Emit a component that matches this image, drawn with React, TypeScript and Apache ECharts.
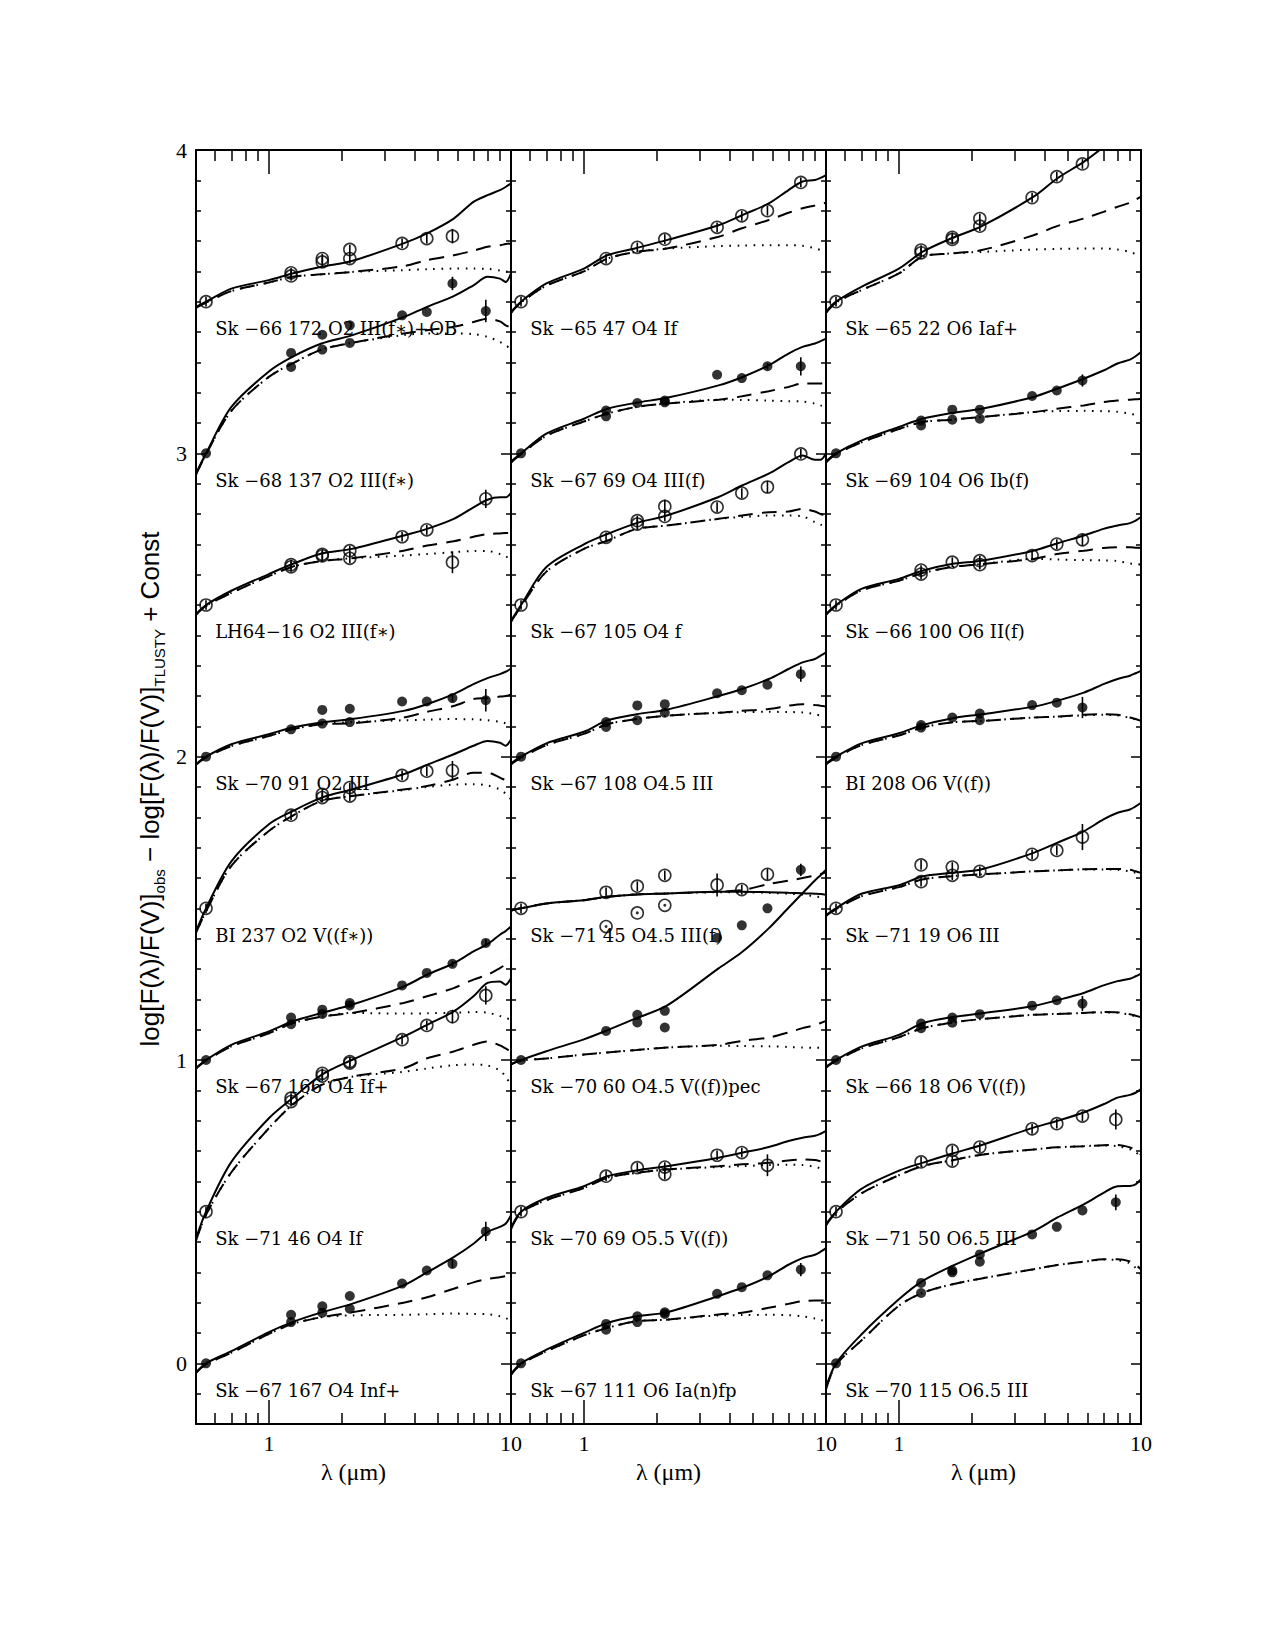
import React, { useEffect, useRef } from 'react';
import * as echarts from 'echarts';

// ---------- wavelengths (micron) ----------
const MODEL_L = [0.5, 0.55, 0.7, 1.0, 1.25, 1.65, 2.2, 3.6, 4.5, 5.8, 7, 8, 9, 9.5, 10];
const V = 0.55, J = 1.235, H = 1.662, K = 2.159, I1 = 3.55, I2 = 4.49, I3 = 5.73, I4 = 7.87;

// ---------- axis ticks ----------
const X_MAJOR_TICKS = [1];
const X_MINOR_TICKS = [0.6, 0.7, 0.8, 0.9, 2, 3, 4, 5, 6, 7, 8, 9];
const X_LABELS = [1, 10];
const Y_MAJOR_TICKS = [0, 1, 2, 3, 4];
const Y_MINOR_TICKS: number[] = [];
for (let i = -1; i < 40; i++) if (i % 10 !== 0) Y_MINOR_TICKS.push(i / 10);

// ---------- left column ----------
const L1_obs = [[V,3.5,.016],[J,3.595,.016],[J,3.585,.016],[H,3.642,.016],[H,3.631,.016],[K,3.672,.016],[K,3.642,.016],[I1,3.692,.016],[I2,3.708,.016],[I3,3.716,.024]];
const L1_solid = [3.483,3.5,3.543,3.571,3.593,3.615,3.634,3.692,3.725,3.774,3.829,3.851,3.868,3.878,3.89];
const L1_dash = [3.48,3.497,3.535,3.563,3.582,3.59,3.598,3.617,3.637,3.653,3.668,3.681,3.686,3.69,3.692];
const L1_dot = [3.48,3.497,3.535,3.563,3.582,3.59,3.598,3.604,3.607,3.609,3.609,3.608,3.603,3.6,3.597];

const L2_obs = [[V,3.0,0],[J,3.331,0],[J,3.285,0],[H,3.391,0],[H,3.342,0],[K,3.422,0],[K,3.364,0],[I1,3.455,0],[I2,3.466,0],[I3,3.56,.022],[I4,3.469,.037]];
const L2_solid = [2.933,3.0,3.153,3.27,3.318,3.362,3.389,3.449,3.483,3.518,3.554,3.582,3.576,3.565,3.593];
const L2_dash = [2.93,2.997,3.14,3.252,3.296,3.342,3.364,3.395,3.406,3.417,3.433,3.444,3.435,3.422,3.415];
const L2_dot = [2.93,2.997,3.14,3.252,3.296,3.342,3.364,3.39,3.395,3.395,3.393,3.384,3.367,3.356,3.345];

const L3_obs = [[V,2.5,.016],[J,2.633,.016],[J,2.626,.016],[H,2.667,.016],[H,2.662,.016],[K,2.679,.016],[K,2.654,.016],[I1,2.725,.016],[I2,2.748,.016],[I3,2.641,.036],[I4,2.85,.03]];
const L3_solid = [2.47,2.5,2.547,2.602,2.635,2.67,2.685,2.729,2.751,2.784,2.822,2.847,2.855,2.855,2.87];
const L3_dash = [2.468,2.497,2.54,2.595,2.626,2.645,2.654,2.679,2.696,2.71,2.725,2.734,2.736,2.737,2.737];
const L3_dot = [2.468,2.497,2.54,2.595,2.626,2.645,2.654,2.663,2.668,2.674,2.678,2.678,2.668,2.66,2.652];

const L4_obs = [[V,2.0,0],[J,2.09,0],[H,2.154,0],[H,2.109,0],[K,2.158,0],[K,2.114,0],[I1,2.182,0],[I2,2.182,0],[I3,2.193,.012],[I4,2.186,.037]];
const L4_solid = [1.975,2.0,2.041,2.074,2.096,2.113,2.124,2.151,2.173,2.206,2.239,2.259,2.272,2.28,2.29];
const L4_dash = [1.973,1.998,2.035,2.068,2.09,2.107,2.11,2.129,2.148,2.167,2.19,2.193,2.198,2.2,2.204];
const L4_dot = [1.973,1.998,2.035,2.068,2.09,2.107,2.114,2.12,2.122,2.124,2.123,2.12,2.115,2.11,2.104];

const L5_obs = [[V,1.5,.016],[J,1.807,.016],[H,1.876,.016],[H,1.865,.016],[K,1.898,.016],[K,1.87,.016],[I1,1.938,.016],[I2,1.952,.016],[I3,1.954,.032]];
const L5_solid = [1.424,1.5,1.655,1.777,1.82,1.865,1.892,1.942,1.973,2.008,2.036,2.052,2.046,2.036,2.057];
const L5_dash = [1.42,1.49,1.64,1.755,1.805,1.854,1.87,1.892,1.903,1.925,1.947,1.947,1.931,1.922,1.914];
const L5_dot = [1.42,1.49,1.64,1.755,1.805,1.854,1.87,1.89,1.9,1.908,1.909,1.905,1.892,1.878,1.859];

const L6_obs = [[V,1.0,0],[J,1.14,0],[J,1.118,0],[H,1.166,0],[H,1.152,0],[K,1.188,0],[K,1.18,0],[I1,1.246,0],[I2,1.287,0],[I3,1.317,.01],[I4,1.386,.012]];
const L6_solid = [0.974,1.0,1.05,1.094,1.127,1.155,1.182,1.242,1.281,1.319,1.358,1.382,1.413,1.425,1.44];
const L6_dash = [0.972,0.998,1.045,1.088,1.121,1.143,1.155,1.188,1.21,1.237,1.265,1.281,1.303,1.315,1.33];
const L6_dot = [0.972,0.998,1.045,1.088,1.121,1.143,1.155,1.153,1.154,1.156,1.158,1.156,1.145,1.139,1.133];

const L7_obs = [[V,0.5,.016],[J,0.874,.016],[J,0.863,.016],[H,0.956,.016],[H,0.947,.016],[K,0.995,.016],[K,0.99,.016],[I1,1.067,.016],[I2,1.114,.016],[I3,1.143,.022],[I4,1.213,.03]];
const L7_solid = [0.411,0.5,0.664,0.808,0.874,0.951,1.0,1.077,1.116,1.16,1.21,1.254,1.259,1.248,1.27];
const L7_dash = [0.405,0.49,0.63,0.775,0.852,0.918,0.945,0.973,1.006,1.028,1.05,1.061,1.048,1.038,1.028];
const L7_dot = [0.405,0.49,0.63,0.775,0.852,0.918,0.945,0.961,0.972,0.983,0.985,0.982,0.965,0.945,0.918];

const L8_obs = [[V,0,0],[J,0.16,0],[J,0.136,0],[H,0.188,0],[H,0.167,0],[K,0.222,0],[K,0.18,0],[I1,0.263,0],[I2,0.306,0],[I3,0.328,.015],[I4,0.435,.032]];
const L8_solid = [-0.03,0.0,0.04,0.103,0.136,0.168,0.196,0.257,0.3,0.35,0.394,0.433,0.45,0.46,0.488];
const L8_dash = [-0.032,-0.003,0.035,0.097,0.13,0.152,0.168,0.2,0.218,0.246,0.267,0.278,0.284,0.287,0.289];
const L8_dot = [-0.032,-0.003,0.035,0.097,0.13,0.152,0.158,0.16,0.162,0.164,0.163,0.162,0.155,0.149,0.142];

// ---------- middle column ----------
const M1_obs = [[V,3.5,.016],[J,3.642,.016],[H,3.679,.016],[K,3.706,.016],[I1,3.745,.016],[I2,3.783,.016],[I3,3.8,.016],[I4,3.893,.016]];
const M1_solid = [3.466,3.5,3.56,3.609,3.653,3.677,3.703,3.752,3.785,3.824,3.868,3.896,3.901,3.908,3.917];
const M1_dash = [3.463,3.497,3.553,3.6,3.642,3.664,3.675,3.714,3.742,3.769,3.793,3.808,3.817,3.822,3.826];
const M1_dot = [3.463,3.497,3.553,3.6,3.642,3.664,3.675,3.683,3.685,3.686,3.686,3.684,3.676,3.67,3.664];

const M2_obs = [[V,3.0,0],[J,3.141,0],[J,3.122,0],[H,3.166,0],[K,3.174,0],[K,3.168,0],[I1,3.259,0],[I2,3.248,0],[I3,3.287,.01],[I4,3.287,.03]];
const M2_solid = [2.973,3.0,3.065,3.114,3.147,3.167,3.183,3.224,3.251,3.29,3.329,3.351,3.362,3.37,3.378];
const M2_dash = [2.97,2.997,3.058,3.105,3.131,3.153,3.164,3.177,3.188,3.205,3.219,3.23,3.23,3.23,3.23];
const M2_dot = [2.97,2.997,3.058,3.105,3.131,3.153,3.164,3.177,3.176,3.174,3.172,3.171,3.164,3.158,3.153];

const M3_obs = [[V,2.5,.016],[J,2.723,.016],[H,2.767,.016],[H,2.778,.016],[K,2.825,.022],[K,2.792,.016],[I1,2.823,.016],[I2,2.869,.016],[I3,2.889,.02],[I4,2.998,.016]];
const M3_solid = [2.448,2.5,2.625,2.7,2.734,2.77,2.795,2.856,2.894,2.933,2.971,2.993,2.979,2.979,3.0];
const M3_dash = [2.445,2.495,2.61,2.685,2.712,2.751,2.762,2.784,2.795,2.806,2.808,2.817,2.808,2.8,2.795];
const M3_dot = [2.445,2.495,2.61,2.685,2.712,2.751,2.762,2.784,2.79,2.795,2.795,2.792,2.773,2.765,2.756];

const M4_obs = [[V,2.0,0],[J,2.114,0],[J,2.098,0],[H,2.169,0],[H,2.12,0],[K,2.173,0],[K,2.145,0],[I1,2.209,0],[I2,2.219,0],[I3,2.237,0],[I4,2.272,.025]];
const M4_solid = [1.978,2.0,2.044,2.082,2.12,2.14,2.155,2.2,2.223,2.256,2.289,2.311,2.322,2.333,2.344];
const M4_dash = [1.975,1.997,2.038,2.075,2.107,2.124,2.135,2.145,2.151,2.157,2.168,2.173,2.17,2.168,2.165];
const M4_dot = [1.975,1.997,2.038,2.075,2.107,2.124,2.135,2.145,2.147,2.148,2.147,2.146,2.14,2.135,2.129];

const M5_obs = [[V,1.5,.016],[J,1.553,.016],[H,1.573,.016],[K,1.609,.016],[I1,1.577,.038],[I2,1.562,.016],[I3,1.612,.018]];
const M5_dotted = [[J,1.44,0],[H,1.485,0],[K,1.51,0]];
const M5_solid = [1.493,1.5,1.516,1.527,1.538,1.546,1.549,1.555,1.555,1.553,1.551,1.55,1.548,1.547,1.545];
const M5_dash = [1.493,1.5,1.516,1.527,1.538,1.546,1.549,1.555,1.56,1.58,1.591,1.6,1.608,1.613,1.618];
const M5_dot = [1.493,1.5,1.516,1.527,1.538,1.546,1.549,1.553,1.553,1.551,1.548,1.545,1.54,1.536,1.532];

const M6_obs = [[V,1.0,0],[J,1.096,0],[H,1.149,0],[H,1.124,0],[K,1.162,0],[K,1.107,0],[I1,1.403,0],[I2,1.444,0],[I3,1.5,0],[I4,1.627,.02]];
const M6_solid = [0.986,1.0,1.029,1.068,1.098,1.138,1.179,1.302,1.356,1.434,1.502,1.55,1.592,1.609,1.627];
const M6_dash = [0.985,0.998,1.005,1.018,1.025,1.033,1.041,1.05,1.063,1.074,1.091,1.105,1.115,1.122,1.129];
const M6_dot = [0.985,0.998,1.005,1.018,1.025,1.033,1.041,1.047,1.046,1.045,1.043,1.041,1.04,1.04,1.04];

const M7_obs = [[V,0.5,.016],[J,0.617,.016],[H,0.645,.016],[K,0.647,.016],[K,0.623,.016],[I1,0.686,.016],[I2,0.695,.016],[I3,0.653,.036]];
const M7_solid = [0.446,0.5,0.545,0.584,0.617,0.636,0.65,0.678,0.694,0.713,0.733,0.744,0.75,0.757,0.766];
const M7_dash = [0.443,0.497,0.538,0.578,0.612,0.628,0.639,0.65,0.656,0.661,0.669,0.672,0.67,0.666,0.661];
const M7_dot = [0.443,0.497,0.538,0.578,0.612,0.628,0.639,0.647,0.65,0.654,0.655,0.654,0.648,0.643,0.637];

const M8_obs = [[V,0,0],[J,0.13,0],[J,0.111,0],[H,0.155,0],[H,0.136,0],[K,0.168,0],[K,0.163,0],[I1,0.229,0],[I2,0.251,0],[I3,0.29,0],[I4,0.309,.022]];
const M8_solid = [-0.035,0.0,0.045,0.1,0.133,0.155,0.168,0.222,0.249,0.287,0.325,0.347,0.358,0.368,0.38];
const M8_dash = [-0.038,-0.003,0.04,0.092,0.117,0.139,0.144,0.161,0.167,0.183,0.196,0.205,0.207,0.207,0.207];
const M8_dot = [-0.038,-0.003,0.04,0.092,0.117,0.139,0.144,0.158,0.159,0.16,0.159,0.155,0.148,0.143,0.139];

// ---------- right column ----------
const R1_obs = [[V,3.5,.016],[J,3.67,.016],[J,3.661,.016],[H,3.712,.016],[H,3.705,.016],[K,3.774,.016],[K,3.749,.016],[I1,3.843,.016],[I2,3.912,.016],[I3,3.954,.016]];
const R1_solid = [3.466,3.5,3.549,3.609,3.664,3.709,3.749,3.846,3.906,3.961,4.01,4.05,4.09,4.11,4.13];
const R1_dash = [3.463,3.497,3.538,3.593,3.648,3.659,3.67,3.719,3.749,3.774,3.796,3.813,3.826,3.836,3.846];
const R1_dot = [3.463,3.497,3.538,3.593,3.648,3.659,3.664,3.672,3.674,3.675,3.675,3.672,3.664,3.657,3.65];

const R2_obs = [[V,3.0,0],[J,3.108,0],[J,3.092,0],[H,3.144,0],[H,3.111,0],[K,3.144,0],[K,3.114,0],[I1,3.189,0],[I2,3.207,0],[I3,3.24,.02]];
const R2_solid = [2.973,3.0,3.042,3.087,3.114,3.133,3.147,3.186,3.213,3.246,3.273,3.296,3.309,3.32,3.334];
const R2_dash = [2.97,2.997,3.036,3.08,3.103,3.111,3.12,3.136,3.147,3.158,3.169,3.174,3.177,3.178,3.18];
const R2_dot = [2.97,2.997,3.036,3.08,3.103,3.111,3.12,3.136,3.139,3.14,3.139,3.137,3.131,3.126,3.122];

const R3_obs = [[V,2.5,.016],[J,2.615,.016],[J,2.602,.016],[H,2.641,.016],[K,2.646,.016],[K,2.633,.016],[I1,2.663,.016],[I2,2.701,.016],[I3,2.715,.02]];
const R3_solid = [2.47,2.5,2.553,2.586,2.613,2.635,2.646,2.679,2.703,2.729,2.751,2.762,2.77,2.778,2.79];
const R3_dash = [2.468,2.497,2.548,2.58,2.605,2.625,2.635,2.652,2.668,2.679,2.688,2.69,2.69,2.689,2.688];
const R3_dot = [2.468,2.497,2.548,2.58,2.605,2.625,2.635,2.652,2.65,2.648,2.647,2.645,2.637,2.635,2.633];

const R4_obs = [[V,2.0,0],[J,2.104,0],[J,2.096,0],[H,2.129,0],[K,2.142,0],[K,2.12,0],[I1,2.17,0],[I2,2.178,0],[I3,2.162,.035]];
const R4_solid = [1.978,2.0,2.044,2.077,2.104,2.126,2.14,2.165,2.184,2.211,2.239,2.256,2.267,2.275,2.283];
const R4_dash = [1.975,1.997,2.038,2.07,2.096,2.113,2.118,2.129,2.132,2.138,2.14,2.138,2.129,2.124,2.118];
const R4_dot = [1.975,1.997,2.038,2.07,2.096,2.113,2.118,2.129,2.132,2.136,2.138,2.136,2.128,2.122,2.115];

const R5_obs = [[V,1.5,.016],[J,1.643,.016],[J,1.588,.016],[H,1.636,.016],[H,1.609,.016],[K,1.622,.016],[I1,1.678,.016],[I2,1.691,.016],[I3,1.735,.043]];
const R5_solid = [1.478,1.5,1.548,1.576,1.605,1.617,1.629,1.683,1.716,1.754,1.793,1.815,1.826,1.836,1.848];
const R5_dash = [1.475,1.497,1.54,1.57,1.595,1.606,1.612,1.622,1.625,1.629,1.63,1.63,1.627,1.622,1.617];
const R5_dot = [1.475,1.497,1.54,1.57,1.595,1.606,1.612,1.622,1.625,1.628,1.628,1.627,1.622,1.617,1.612];

const R6_obs = [[V,1.0,0],[J,1.12,0],[J,1.105,0],[H,1.14,0],[H,1.123,0],[K,1.151,0],[I1,1.179,0],[I2,1.197,0],[I3,1.186,.025]];
const R6_solid = [0.978,1.0,1.044,1.083,1.121,1.141,1.154,1.178,1.197,1.221,1.246,1.26,1.268,1.276,1.285];
const R6_dash = [0.975,0.997,1.038,1.075,1.105,1.123,1.135,1.149,1.152,1.155,1.158,1.157,1.151,1.146,1.141];
const R6_dot = [0.975,0.997,1.038,1.075,1.105,1.123,1.135,1.149,1.152,1.155,1.157,1.156,1.149,1.143,1.138];

const R7_obs = [[V,0.5,.016],[J,0.664,.016],[H,0.702,.016],[H,0.667,.016],[K,0.713,.016],[I1,0.773,.016],[I2,0.79,.016],[I3,0.815,.016],[I4,0.804,.033]];
const R7_solid = [0.458,0.5,0.575,0.635,0.661,0.691,0.72,0.777,0.799,0.827,0.854,0.876,0.885,0.892,0.904];
const R7_dash = [0.455,0.497,0.56,0.62,0.65,0.669,0.688,0.705,0.712,0.716,0.719,0.72,0.712,0.702,0.688];
const R7_dot = [0.455,0.497,0.56,0.62,0.65,0.669,0.688,0.705,0.712,0.716,0.718,0.716,0.706,0.696,0.684];

const R8_obs = [[V,0,0],[J,0.265,0],[J,0.232,0],[H,0.306,0],[H,0.3,0],[K,0.359,0],[K,0.335,0],[I1,0.425,0],[I2,0.45,0],[I3,0.504,0],[I4,0.531,.026]];
const R8_solid = [-0.08,0.0,0.095,0.211,0.271,0.32,0.364,0.436,0.48,0.524,0.562,0.584,0.585,0.59,0.607];
const R8_dash = [-0.085,-0.005,0.075,0.19,0.232,0.26,0.28,0.31,0.324,0.335,0.343,0.343,0.336,0.325,0.31];
const R8_dot = [-0.085,-0.005,0.075,0.19,0.232,0.26,0.28,0.31,0.324,0.335,0.342,0.34,0.33,0.315,0.293];

// ---------- star list ----------
type Star = { panel: number; base: number; name: string; kind: 'o' | 'f'; obs: number[][]; solid: number[]; dash: number[]; dot: number[]; dotted?: number[][] };
const STARS: Star[] = [
  { panel: 0, base: 3.5, name: 'Sk −66 172 O2 III(f∗)+OB', kind: 'o', obs: L1_obs, solid: L1_solid, dash: L1_dash, dot: L1_dot },
  { panel: 0, base: 3.0, name: 'Sk −68 137 O2 III(f∗)', kind: 'f', obs: L2_obs, solid: L2_solid, dash: L2_dash, dot: L2_dot },
  { panel: 0, base: 2.5, name: 'LH64−16 O2 III(f∗)', kind: 'o', obs: L3_obs, solid: L3_solid, dash: L3_dash, dot: L3_dot },
  { panel: 0, base: 2.0, name: 'Sk −70 91 O2 III', kind: 'f', obs: L4_obs, solid: L4_solid, dash: L4_dash, dot: L4_dot },
  { panel: 0, base: 1.5, name: 'BI 237 O2 V((f∗))', kind: 'o', obs: L5_obs, solid: L5_solid, dash: L5_dash, dot: L5_dot },
  { panel: 0, base: 1.0, name: 'Sk −67 166 O4 If+', kind: 'f', obs: L6_obs, solid: L6_solid, dash: L6_dash, dot: L6_dot },
  { panel: 0, base: 0.5, name: 'Sk −71 46 O4 If', kind: 'o', obs: L7_obs, solid: L7_solid, dash: L7_dash, dot: L7_dot },
  { panel: 0, base: 0.0, name: 'Sk −67 167 O4 Inf+', kind: 'f', obs: L8_obs, solid: L8_solid, dash: L8_dash, dot: L8_dot },
  { panel: 1, base: 3.5, name: 'Sk −65 47 O4 If', kind: 'o', obs: M1_obs, solid: M1_solid, dash: M1_dash, dot: M1_dot },
  { panel: 1, base: 3.0, name: 'Sk −67 69 O4 III(f)', kind: 'f', obs: M2_obs, solid: M2_solid, dash: M2_dash, dot: M2_dot },
  { panel: 1, base: 2.5, name: 'Sk −67 105 O4 f', kind: 'o', obs: M3_obs, solid: M3_solid, dash: M3_dash, dot: M3_dot },
  { panel: 1, base: 2.0, name: 'Sk −67 108 O4.5 III', kind: 'f', obs: M4_obs, solid: M4_solid, dash: M4_dash, dot: M4_dot },
  { panel: 1, base: 1.5, name: 'Sk −71 45 O4.5 III(f)', kind: 'o', obs: M5_obs, solid: M5_solid, dash: M5_dash, dot: M5_dot, dotted: M5_dotted },
  { panel: 1, base: 1.0, name: 'Sk −70 60 O4.5 V((f))pec', kind: 'f', obs: M6_obs, solid: M6_solid, dash: M6_dash, dot: M6_dot },
  { panel: 1, base: 0.5, name: 'Sk −70 69 O5.5 V((f))', kind: 'o', obs: M7_obs, solid: M7_solid, dash: M7_dash, dot: M7_dot },
  { panel: 1, base: 0.0, name: 'Sk −67 111 O6 Ia(n)fp', kind: 'f', obs: M8_obs, solid: M8_solid, dash: M8_dash, dot: M8_dot },
  { panel: 2, base: 3.5, name: 'Sk −65 22 O6 Iaf+', kind: 'o', obs: R1_obs, solid: R1_solid, dash: R1_dash, dot: R1_dot },
  { panel: 2, base: 3.0, name: 'Sk −69 104 O6 Ib(f)', kind: 'f', obs: R2_obs, solid: R2_solid, dash: R2_dash, dot: R2_dot },
  { panel: 2, base: 2.5, name: 'Sk −66 100 O6 II(f)', kind: 'o', obs: R3_obs, solid: R3_solid, dash: R3_dash, dot: R3_dot },
  { panel: 2, base: 2.0, name: 'BI 208 O6 V((f))', kind: 'f', obs: R4_obs, solid: R4_solid, dash: R4_dash, dot: R4_dot },
  { panel: 2, base: 1.5, name: 'Sk −71 19 O6 III', kind: 'o', obs: R5_obs, solid: R5_solid, dash: R5_dash, dot: R5_dot },
  { panel: 2, base: 1.0, name: 'Sk −66 18 O6 V((f))', kind: 'f', obs: R6_obs, solid: R6_solid, dash: R6_dash, dot: R6_dot },
  { panel: 2, base: 0.5, name: 'Sk −71 50 O6.5 III', kind: 'o', obs: R7_obs, solid: R7_solid, dash: R7_dash, dot: R7_dot },
  { panel: 2, base: 0.0, name: 'Sk −70 115 O6.5 III', kind: 'f', obs: R8_obs, solid: R8_solid, dash: R8_dash, dot: R8_dot },
];
const LABEL_LAMBDA = 0.6;
const LABEL_DY = -0.088;

// ---------- layout ----------
const PANEL_LEFT = [196, 511, 826];
const PANEL_W = 315;
const PANEL_TOP = 150;
const PANEL_H = 1274;
const SERIF = "'Liberation Serif', 'DejaVu Serif', serif";
const LABEL_FONT = "'DejaVu Serif', serif";
const SANS = "'Liberation Sans', 'DejaVu Sans', sans-serif";

function mkX(gi: number, pos: string, minor: boolean) {
  const showLab = !minor && pos === 'bottom';
  return {
    type: 'log', logBase: 10, gridIndex: gi, position: pos, min: 0.5, max: 10,
    axisLine: { show: !minor, onZero: false, lineStyle: { color: '#000', width: 2 } },
    axisTick: { show: true, inside: true, length: minor ? 11 : 24, customValues: minor ? X_MINOR_TICKS : X_MAJOR_TICKS, lineStyle: { color: '#000', width: 1.5 } },
    minorTick: { show: false },
    axisLabel: showLab
      ? { show: true, customValues: X_LABELS, formatter: (v: number) => String(Math.round(v)), color: '#000', fontFamily: SERIF, fontSize: 22, margin: 8 }
      : { show: false },
    splitLine: { show: false },
    name: showLab ? 'λ (μm)' : '',
    nameLocation: 'middle', nameGap: 36,
    nameTextStyle: { color: '#000', fontFamily: SERIF, fontSize: 24 },
    silent: true,
  };
}

function mkY(gi: number, pos: string, minor: boolean, p: number) {
  const showLab = !minor && pos === 'left' && p === 0;
  return {
    type: 'value', gridIndex: gi, position: pos, min: -0.2, max: 4,
    axisLine: { show: !minor, onZero: false, lineStyle: { color: '#000', width: 2 } },
    axisTick: { show: true, inside: true, length: minor ? 5 : 10, customValues: minor ? Y_MINOR_TICKS : Y_MAJOR_TICKS, lineStyle: { color: '#000', width: 1.5 } },
    minorTick: { show: false },
    axisLabel: showLab
      ? { show: true, customValues: Y_MAJOR_TICKS, formatter: (v: number) => String(Math.round(v)), color: '#000', fontFamily: SERIF, fontSize: 22, margin: 9 }
      : { show: false },
    splitLine: { show: false },
    silent: true,
  };
}

function buildOption() {
  const grid: any[] = [];
  const xAxis: any[] = [];
  const yAxis: any[] = [];
  for (let layer = 0; layer < 2; layer++) {
    for (let p = 0; p < 3; p++) {
      const gi = layer * 3 + p;
      const minor = layer === 1;
      grid.push({ left: PANEL_LEFT[p], top: PANEL_TOP, width: PANEL_W, height: PANEL_H, containLabel: false, outerBoundsMode: 'none' });
      xAxis.push(mkX(gi, 'bottom', minor));
      xAxis.push(mkX(gi, 'top', minor));
      yAxis.push(mkY(gi, 'left', minor, p));
      yAxis.push(mkY(gi, 'right', minor, p));
    }
  }

  const series: any[] = [];
  STARS.forEach((st) => {
    const ax = { xAxisIndex: 2 * st.panel, yAxisIndex: 2 * st.panel };
    const ln = (vals: number[], type: any, w: number, z: number) => ({
      type: 'line', ...ax, data: MODEL_L.map((l, i) => [l, vals[i]]),
      symbol: 'none', showSymbol: false, smooth: 0.3, clip: true, silent: true, z,
      lineStyle: { color: '#000', width: w, type },
    });
    series.push(ln(st.dot, [1.6, 6.5], 2, 2));
    series.push(ln(st.dash, [15, 9], 2, 2));
    series.push(ln(st.solid, 'solid', 2, 3));

    const errs = st.obs.filter((o) => o[2] > 0).map((o) => [o[0], o[1], o[2]]);
    series.push({
      type: 'custom', ...ax, data: errs, silent: true, z: 4, clip: true,
      encode: { x: 0, y: 1 },
      renderItem: (_p: any, api: any) => {
        const x = api.value(0), y = api.value(1), e = api.value(2);
        const a = api.coord([x, y - e]);
        const b = api.coord([x, y + e]);
        return { type: 'line', shape: { x1: a[0], y1: a[1], x2: b[0], y2: b[1] }, style: { stroke: '#000', lineWidth: 1.6 } };
      },
    });

    const pts = st.obs.map((o) => [o[0], o[1]]);
    series.push(st.kind === 'o'
      ? { type: 'scatter', ...ax, data: pts, symbol: 'circle', symbolSize: 12, silent: true, z: 5,
          itemStyle: { color: 'rgba(255,255,255,0)', borderColor: '#000', borderWidth: 1.6 } }
      : { type: 'scatter', ...ax, data: pts, symbol: 'circle', symbolSize: 10, silent: true, z: 5,
          itemStyle: { color: '#000', borderWidth: 0 } });

    if (st.dotted) {
      const dp = st.dotted.map((o) => [o[0], o[1]]);
      series.push({ type: 'scatter', ...ax, data: dp, symbol: 'circle', symbolSize: 12, silent: true, z: 5,
        itemStyle: { color: 'rgba(255,255,255,0)', borderColor: '#000', borderWidth: 1.6 } });
      series.push({ type: 'scatter', ...ax, data: dp, symbol: 'circle', symbolSize: 3, silent: true, z: 5,
        itemStyle: { color: '#000' } });
    }

    series.push({
      type: 'scatter', ...ax, data: [[LABEL_LAMBDA, st.base + LABEL_DY]], symbol: 'circle', symbolSize: 2,
      itemStyle: { color: 'rgba(0,0,0,0)', borderWidth: 0 }, silent: true, z: 6,
      label: { show: true, position: 'inside', align: 'left', verticalAlign: 'middle', formatter: st.name,
        color: '#000', fontFamily: LABEL_FONT, fontSize: 18, opacity: 1 },
      labelLayout: { hideOverlap: false },
    });
  });

  return {
    animation: false,
    backgroundColor: '#fff',
    grid, xAxis, yAxis, series,
    graphic: [{
      type: 'text', x: 150, y: 789, rotation: Math.PI / 2, silent: true,
      style: {
        text: '{m|log[F(λ)/F(V)]}{s|obs}{m| − log[F(λ)/F(V)]}{s|TLUSTY}{m| + Const}',
        rich: {
          m: { fontSize: 26, fontFamily: SANS, lineHeight: 34, verticalAlign: 'middle', fill: '#000', color: '#000' },
          s: { fontSize: 15, fontFamily: SANS, lineHeight: 15, verticalAlign: 'bottom', fill: '#000', color: '#000' },
        },
        align: 'center', verticalAlign: 'middle', fill: '#000',
      },
    }],
  };
}

export default function App() {
  const ref = useRef<HTMLDivElement>(null);
  useEffect(() => {
    document.body.style.margin = '0';
    const chart = echarts.init(ref.current as HTMLDivElement, null, { renderer: 'svg' });
    chart.setOption(buildOption() as any);
    return () => chart.dispose();
  }, []);
  return <div ref={ref} style={{ width: 1275, height: 1650, background: '#fff' }} />;
}
